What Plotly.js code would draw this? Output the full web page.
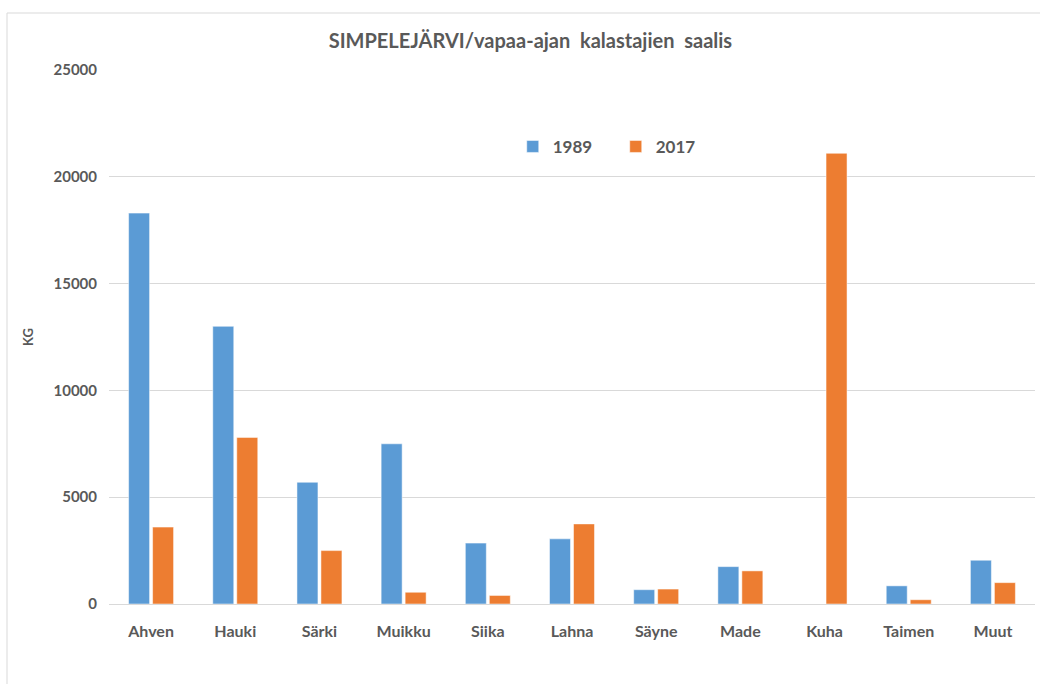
<!DOCTYPE html>
<html>
<head>
<meta charset="utf-8">
<script src="https://cdn.plot.ly/plotly-3.0.1.min.js"></script>
<style>html,body{margin:0;padding:0;background:#fff;}#chart{width:1040px;height:684px;}</style>
</head>
<body>
<div id="chart"></div>
<script>
const categories = ["Ahven","Hauki","Särki","Muikku","Siika","Lahna","Säyne","Made","Kuha","Taimen","Muut"];
const values1989 = [18300, 13000, 5700, 7500, 2850, 3050, 670, 1750, 0, 850, 2050];
const values2017 = [3600, 7800, 2500, 550, 400, 3750, 700, 1550, 21100, 200, 1000];
const seriesNames = ["1989", "2017"];
const yTicks = [0, 5000, 10000, 15000, 20000, 25000];
const titleText = "SIMPELEJÄRVI/vapaa-ajan&nbsp; kalastajien&nbsp; saalis";

const gray = "#595959";
const fontFam = "Lato, 'Open Sans', sans-serif";

const traces = [
  {type:"bar", name:seriesNames[0], x:categories, y:values1989,
   marker:{color:"#5B9BD5", line:{color:"rgba(255,255,255,0.5)", width:1}}},
  {type:"bar", name:seriesNames[1], x:categories, y:values2017,
   marker:{color:"#ED7D31", line:{color:"rgba(255,255,255,0.5)", width:1}}}
];

const layout = {
  width:1040, height:684,
  margin:{l:109, r:5, t:70, b:80},
  paper_bgcolor:"#fff", plot_bgcolor:"#fff",
  barmode:"group", bargap:0.43, bargroupgap:0.125,
  font:{family:fontFam, color:gray},
  title:{text:titleText, font:{family:fontFam, size:20, color:gray, weight:"bold"},
         x:0.51, xref:"container", xanchor:"center", y:0.94, yref:"container", yanchor:"middle"},
  showlegend:true,
  legend:{orientation:"h", x:0.436, xanchor:"left", y:0.856, yanchor:"middle",
          font:{family:fontFam, size:17, color:gray, weight:"bold"},
          entrywidth:58, entrywidthmode:"pixels", itemwidth:30,
          bgcolor:"rgba(0,0,0,0)"},
  xaxis:{type:"category", showgrid:false, showline:true, linecolor:"#d9d9d9", linewidth:1,
         ticks:"", tickfont:{family:fontFam, size:16, color:gray, weight:"bold"},
         ticklabelstandoff:13, fixedrange:true},
  yaxis:{range:[0,25000], tickvals:yTicks, ticktext:yTicks.map(String),
         showgrid:true, gridcolor:"#d9d9d9", gridwidth:1, zeroline:false, showline:false,
         ticks:"", tickfont:{family:fontFam, size:15, color:gray, weight:"bold"},
         ticklabelstandoff:11,
         title:{text:"KG", font:{family:fontFam, size:13, color:gray, weight:"bold"}, standoff:16},
         fixedrange:true},
  shapes:[{type:"rect", xref:"paper", yref:"paper",
           x0:(7-109)/926, x1:(1060-109)/926, y0:(604-700)/534, y1:(604-13)/534,
           line:{color:"#d9d9d9", width:1}, fillcolor:"rgba(0,0,0,0)", layer:"below"}]
};

Plotly.newPlot("chart", traces, layout, {displayModeBar:false, staticPlot:true});
</script>
</body>
</html>
